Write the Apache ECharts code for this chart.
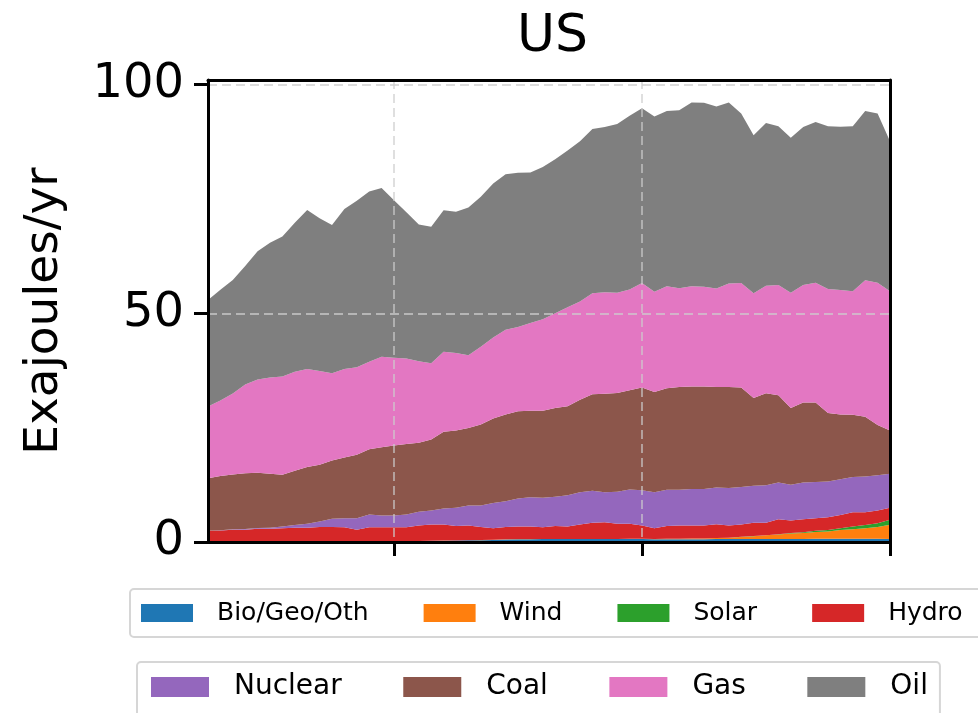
<!DOCTYPE html>
<html>
<head>
<meta charset="utf-8">
<script src="https://cdn.jsdelivr.net/npm/echarts@6/dist/echarts.min.js"></script>
<style>
  html, body { margin: 0; padding: 0; background: #fff; }
  #chart { width: 978px; height: 713px; }
</style>
</head>
<body>
<div id="chart"></div>
<script>
// US primary energy consumption by source, Exajoules per year
const years = [
  '1965','1966','1967','1968','1969','1970','1971','1972','1973','1974',
  '1975','1976','1977','1978','1979','1980','1981','1982','1983','1984',
  '1985','1986','1987','1988','1989','1990','1991','1992','1993','1994',
  '1995','1996','1997','1998','1999','2000','2001','2002','2003','2004',
  '2005','2006','2007','2008','2009','2010','2011','2012','2013','2014',
  '2015','2016','2017','2018','2019','2020'
];

const bioGeoOth = [
  0.03,0.03,0.04,0.05,0.06,0.07,0.08,0.1,0.12,0.13,
  0.15,0.16,0.17,0.17,0.18,0.18,0.2,0.22,0.27,0.3,
  0.33,0.36,0.4,0.45,0.55,0.6,0.62,0.64,0.65,0.65,
  0.63,0.64,0.65,0.65,0.66,0.65,0.6,0.62,0.62,0.62,
  0.62,0.63,0.63,0.64,0.64,0.65,0.65,0.66,0.68,0.7,
  0.7,0.7,0.7,0.7,0.69,0.66
];
const wind = [
  0,0,0,0,0,0,0,0,0,0,
  0,0,0,0,0,0,0,0,0,0.01,
  0.01,0.02,0.02,0.02,0.03,0.03,0.03,0.03,0.03,0.03,
  0.03,0.03,0.03,0.03,0.04,0.05,0.06,0.09,0.1,0.12,
  0.15,0.23,0.3,0.48,0.63,0.8,1.0,1.2,1.3,1.5,
  1.6,1.9,2.1,2.3,2.6,3.1
];
const solar = [
  0,0,0,0,0,0,0,0,0,0,
  0,0,0,0,0,0,0,0,0,0,
  0,0,0,0,0,0,0,0,0,0,
  0,0,0,0,0,0,0,0,0,0,
  0,0,0,0.01,0.02,0.03,0.05,0.1,0.17,0.25,
  0.3,0.43,0.6,0.7,0.8,1.1
];
const hydro = [
  2.47,2.47,2.66,2.65,2.84,2.83,2.92,3.0,2.98,3.17,
  3.15,3.04,2.53,3.03,3.02,3.02,3.0,3.38,3.53,3.49,
  3.16,3.22,2.88,2.53,2.72,2.77,2.75,2.53,2.82,2.72,
  3.14,3.53,3.62,3.32,3.3,2.9,2.34,2.79,2.88,2.86,
  2.83,3.04,2.67,2.67,2.91,2.72,3.3,2.74,2.85,2.75,
  2.8,2.87,3.1,2.8,2.81,2.64
];
const nuclear = [
  0.02,0.05,0.08,0.13,0.15,0.24,0.4,0.6,0.9,1.2,
  1.8,2.0,2.5,2.8,2.6,2.6,2.8,3.0,3.1,3.5,
  4.0,4.4,4.7,5.5,5.6,6.1,6.4,6.5,6.4,6.8,
  7.1,7.0,6.6,7.0,7.5,7.7,7.9,7.9,7.8,8.0,
  8.0,8.0,8.2,8.2,8.1,8.2,8.0,7.8,8.0,7.9,
  7.8,7.8,7.7,7.8,7.7,7.4
];
const coal = [
  11.4,11.9,12.0,12.2,12.1,11.8,11.3,11.9,12.4,12.4,
  12.7,13.3,13.9,14.3,14.9,15.3,15.4,15.1,15.5,16.8,
  16.9,16.9,17.7,18.5,19.0,19.1,18.9,19.0,19.4,19.5,
  20.2,21.1,21.5,21.6,21.7,22.5,21.9,22.2,22.5,22.4,
  22.4,22.0,22.1,21.8,19.2,20.1,19.1,16.8,17.5,17.4,
  15.0,14.2,13.6,13.1,11.0,9.5
];
const gas = [
  15.7,16.5,17.7,19.4,20.4,21.0,21.5,21.6,21.4,20.5,
  19.1,19.3,19.1,19.1,19.8,19.2,18.7,17.8,16.7,17.5,
  16.9,15.9,17.0,17.7,18.5,18.4,19.2,20.0,20.7,21.6,
  21.5,22.1,22.2,21.9,22.0,22.8,21.9,22.3,21.6,21.9,
  21.8,21.5,22.6,22.8,22.9,23.5,24.1,25.2,25.7,26.2,
  27.1,27.2,27.0,29.8,31.1,30.4
];
const oil = [
  23.3,24.2,24.8,25.9,28.0,29.5,30.6,32.6,34.8,33.4,
  32.4,35.0,36.4,37.2,36.9,34.4,32.0,29.9,29.8,30.9,
  30.9,32.3,32.8,33.7,34.0,33.7,32.9,33.3,33.7,34.3,
  35.0,35.9,36.1,36.9,38.0,38.2,38.3,38.3,38.9,40.2,
  40.2,39.8,39.6,37.1,34.5,35.6,34.7,33.9,34.5,35.1,
  35.6,35.7,36.1,37.0,37.0,32.8
];

const yTicks = [0, 50, 100];

// stacking order, bottom to top
const sources = [
  { name: 'Bio/Geo/Oth', data: bioGeoOth, color: '#1f77b4' },
  { name: 'Wind',        data: wind,      color: '#ff7f0e' },
  { name: 'Solar',       data: solar,     color: '#2ca02c' },
  { name: 'Hydro',       data: hydro,     color: '#d62728' },
  { name: 'Nuclear',     data: nuclear,   color: '#9467bd' },
  { name: 'Coal',        data: coal,      color: '#8c564b' },
  { name: 'Gas',         data: gas,       color: '#e377c2' },
  { name: 'Oil',         data: oil,       color: '#7f7f7f' }
];

const FONT = 'DejaVu Sans';
const spine = { color: '#000', width: 3 };
const grid = { color: 'rgba(205,205,205,0.7)', width: 1.8, type: [9, 5] };
const everyTwenty = (idx, val) => Number(val) % 20 === 0;

const chart = echarts.init(document.getElementById('chart'), null, { renderer: 'canvas' });

chart.setOption({
  animation: false,
  backgroundColor: '#fff',
  title: {
    text: 'US',
    left: 512,
    top: 6,
    textStyle: { fontFamily: FONT, fontSize: 52, fontWeight: 'normal', color: '#000' }
  },
  grid: { left: 208, right: 88, top: 80, bottom: 171, containLabel: false },
  legend: [
    {
      data: ['Bio/Geo/Oth', 'Wind', 'Solar', 'Hydro'],
      left: 130, top: 589, width: 900,
      orient: 'horizontal',
      icon: 'rect', itemWidth: 52, itemHeight: 18, itemGap: 55,
      padding: [11, 24, 11, 11],
      borderColor: '#d6d6d6', borderWidth: 2, borderRadius: 4,
      selectedMode: false,
      textStyle: { fontFamily: FONT, fontSize: 25, lineHeight: 26, color: '#000', padding: [0, 0, 0, 19] }
    },
    {
      data: ['Nuclear', 'Coal', 'Gas', 'Oil'],
      left: 137, top: 662, width: 900,
      orient: 'horizontal',
      icon: 'rect', itemWidth: 58, itemHeight: 20, itemGap: 61.5,
      padding: [11, 12, 22, 14],
      borderColor: '#d6d6d6', borderWidth: 2, borderRadius: 4,
      selectedMode: false,
      textStyle: { fontFamily: FONT, fontSize: 28, lineHeight: 28, color: '#000', padding: [0, 0, 0, 20] }
    }
  ],
  xAxis: [
    {
      type: 'category', data: years, boundaryGap: false, position: 'bottom', z: 5,
      axisLine: { show: true, onZero: false, lineStyle: spine },
      axisTick: { show: true, interval: everyTwenty, length: 14, inside: false, lineStyle: spine },
      axisLabel: { show: false },
      splitLine: { show: true, interval: everyTwenty, lineStyle: grid }
    },
    {
      type: 'category', data: years, boundaryGap: false, position: 'top', z: 6,
      axisLine: { show: true, onZero: false, lineStyle: spine },
      axisTick: { show: false }, axisLabel: { show: false }, splitLine: { show: false }
    }
  ],
  yAxis: [
    {
      type: 'value', min: 0, max: 101, interval: 50, position: 'left', z: 5,
      name: 'Exajoules/yr', nameLocation: 'middle', nameGap: 140,
      nameTextStyle: { fontFamily: FONT, fontSize: 47, color: '#000' },
      axisLine: { show: true, onZero: false, lineStyle: spine },
      axisTick: { show: true, length: 14, customValues: yTicks, lineStyle: spine },
      axisLabel: { customValues: yTicks, fontFamily: FONT, fontSize: 48, color: '#000', margin: 24 },
      splitLine: { show: true, lineStyle: grid }
    },
    {
      type: 'value', min: 0, max: 101, position: 'right', z: 6,
      axisLine: { show: true, onZero: false, lineStyle: spine },
      axisTick: { show: false }, axisLabel: { show: false }, splitLine: { show: false }
    }
  ],
  series: sources.map(s => ({
    name: s.name,
    type: 'line',
    stack: 'energy',
    data: s.data,
    symbol: 'none',
    showSymbol: false,
    lineStyle: { width: 0, color: s.color },
    itemStyle: { color: s.color },
    areaStyle: { color: s.color, opacity: 1 },
    emphasis: { disabled: true },
    silent: true
  }))
});
</script>
</body>
</html>
